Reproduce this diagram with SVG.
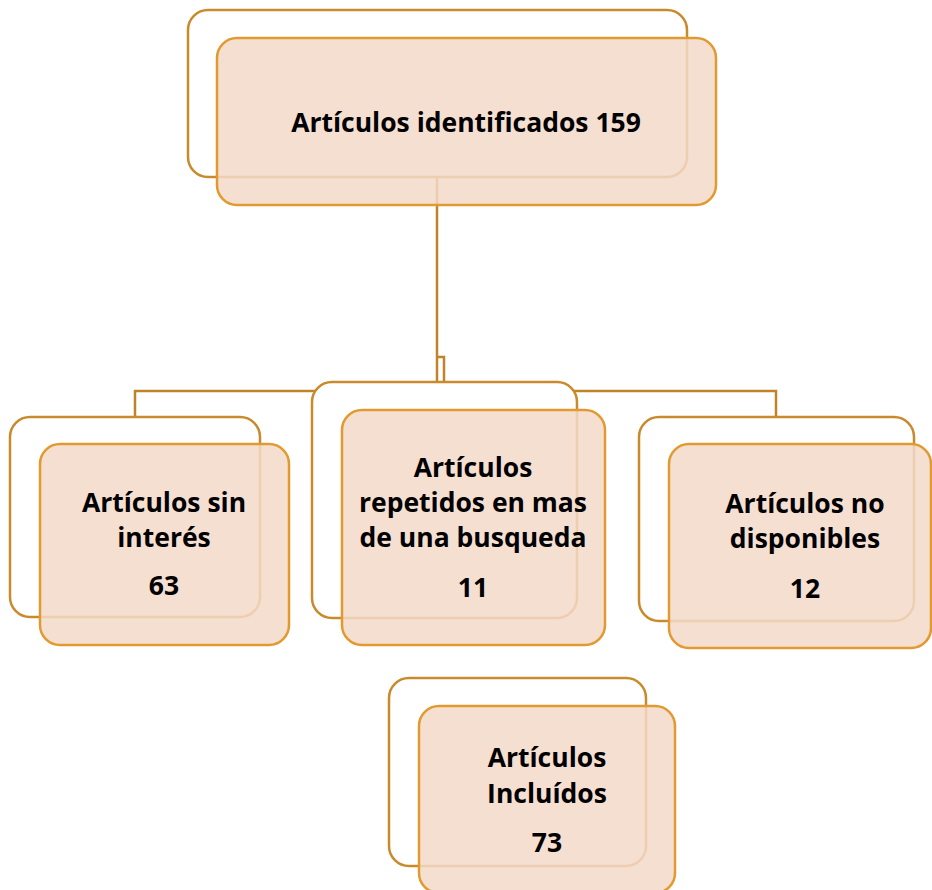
<svg xmlns="http://www.w3.org/2000/svg" width="932" height="890" viewBox="0 0 932 890">
<style>
.back{fill:#ffffff;stroke:#C98A2C;stroke-width:2.5}
.front{fill:#F3D9C9;fill-opacity:0.85;stroke:#E29A30;stroke-width:2.5}
.conn{fill:none;stroke:#BF8429;stroke-width:2.5}
text{font-family:"Open Sans","Noto Sans",sans-serif;font-weight:bold;font-size:26.5px;fill:#000;text-anchor:middle}
</style>
<rect width="932" height="890" fill="#ffffff"/>
<g id="connectors">
<path class="conn" d="M437,177 V383"/>
<path class="conn" d="M437,357 H444 V383"/>
<path class="conn" d="M135,417 V391 H776 V417"/>
</g>
<g id="n-identificados">
<rect class="back" x="188" y="10" width="499" height="167" rx="20"/>
<rect class="front" x="217" y="38" width="499" height="167" rx="20"/>
<text x="466" y="132" font-size="28">Artículos identificados 159</text>
</g>
<g id="n-sin-interes">
<rect class="back" x="10" y="417" width="250" height="200" rx="20"/>
<rect class="front" x="40" y="444" width="249" height="201" rx="20"/>
<text x="164" y="512">Artículos sin</text>
<text x="164" y="547">interés</text>
<text x="164" y="595">63</text>
</g>
<g id="n-repetidos">
<rect class="back" x="312" y="382" width="265" height="236" rx="20"/>
<rect class="front" x="342" y="410" width="263" height="235" rx="20"/>
<text x="473" y="477">Artículos</text>
<text x="473" y="512">repetidos en mas</text>
<text x="473" y="547">de una busqueda</text>
<text x="473" y="597">11</text>
</g>
<g id="n-no-disponibles">
<rect class="back" x="639" y="417" width="275" height="204" rx="20"/>
<rect class="front" x="669" y="444" width="262" height="204" rx="20"/>
<text x="805" y="513">Artículos no</text>
<text x="805" y="548">disponibles</text>
<text x="805" y="598">12</text>
</g>
<g id="n-incluidos">
<rect class="back" x="389" y="678" width="257" height="188" rx="20"/>
<rect class="front" x="419" y="706" width="256" height="187" rx="20"/>
<text x="547" y="767">Artículos</text>
<text x="547" y="803">Incluídos</text>
<text x="547" y="852">73</text>
</g>
</svg>
